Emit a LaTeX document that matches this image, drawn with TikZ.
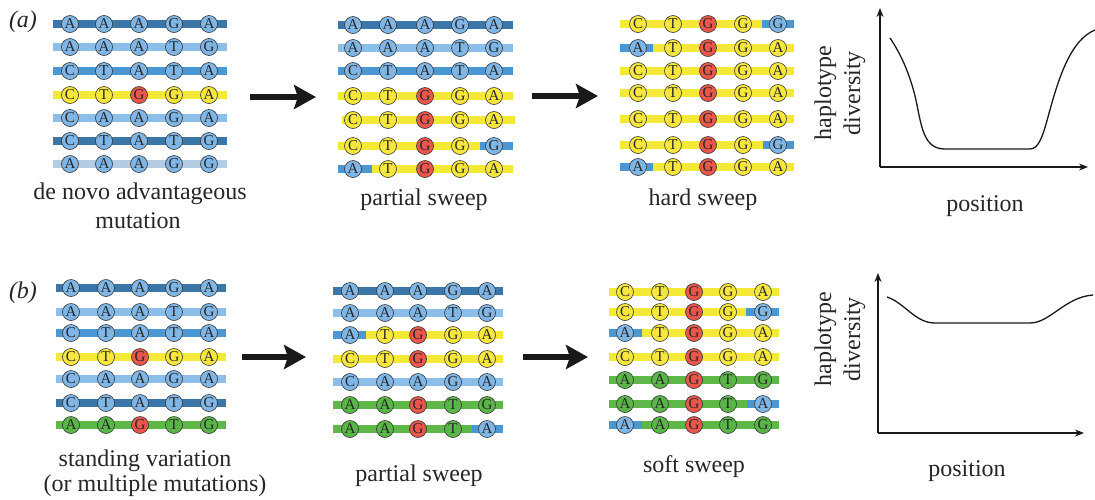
\documentclass[tikz,border=0pt]{standalone}
\usepackage{fontspec}
\setmainfont{Liberation Serif}
\usetikzlibrary{arrows.meta}
\definecolor{bD}{HTML}{3A76A8}
\definecolor{bL}{HTML}{8BBEE8}
\definecolor{bM}{HTML}{4B97D3}
\definecolor{bP}{HTML}{B3CDE5}
\definecolor{yB}{HTML}{F4E936}
\definecolor{gB}{HTML}{5DB848}
\definecolor{cB}{HTML}{80B6E6}
\definecolor{cY}{HTML}{F6E63E}
\definecolor{cR}{HTML}{E8564C}
\definecolor{cG}{HTML}{5AB548}
\tikzset{
  nt/.style={circle, draw=black!80, line width=0.6pt, minimum size=17pt, inner sep=0pt,
    font=\fontsize{15}{15}\selectfont, text=black!85},
  lab/.style={font=\fontsize{24}{27}\selectfont, inner sep=0pt, text=black!85},
  bigarrow/.style={line width=5.5pt, black!90, -{Stealth[length=22pt,width=24pt,inset=4pt]}},
  axis/.style={line width=1.3pt, black!90, -{Stealth[length=9pt,width=7pt]}},
  curve/.style={line width=1.3pt, black!90}
}
\newcommand\hrow[4]{%
  \foreach \hs/\hu/\hv in {#3}{\fill[\hs] (\hu,#2-3.6) rectangle (\hv,#2+3.6);}
  \foreach \hcol/\hlet [count=\hi from 0] in {#4}{%
    \pgfmathsetmacro\hxx{\xs[\hi]}%
    \node[nt,fill=\hcol] (#1-\hi) at (\hxx,#2) {\hlet};}%
}
\begin{document}
\begin{tikzpicture}[x=1pt,y=-1pt]
\useasboundingbox (0,0) rectangle (1095,499);

% ---------- (a) ----------
\node[lab,font=\fontsize{24}{27}\selectfont\itshape] (la) at (23,22) {(a)};

% panel a1
\def\xs{{70,104,139,174,209}}\def\bl{53}\def\br{227}
\hrow{a1r1}{24}{bD/\bl/\br}{cB/A,cB/A,cB/A,cB/G,cB/A}
\hrow{a1r2}{47}{bL/\bl/\br}{cB/A,cB/A,cB/A,cB/T,cB/G}
\hrow{a1r3}{71}{bM/\bl/\br}{cB/C,cB/T,cB/A,cB/T,cB/A}
\hrow{a1r4}{95}{yB/\bl/\br}{cY/C,cY/T,cR/G,cY/G,cY/A}
\hrow{a1r5}{118}{bL/\bl/\br}{cB/C,cB/A,cB/A,cB/G,cB/A}
\hrow{a1r6}{141}{bD/\bl/\br}{cB/C,cB/T,cB/A,cB/T,cB/G}
\hrow{a1r7}{164}{bP/\bl/\br}{cB/A,cB/A,cB/A,cB/G,cB/G}
\node[lab] (t1) at (140,194) {de novo advantageous};
\node[lab] (t2) at (138,221) {mutation};

% panel a2
\def\xs{{353,388,425,460,494}}\def\bl{338}\def\br{513}
\hrow{a2r1}{25}{bD/\bl/\br}{cB/A,cB/A,cB/A,cB/G,cB/A}
\hrow{a2r2}{48}{bL/\bl/\br}{cB/A,cB/A,cB/A,cB/T,cB/G}
\hrow{a2r3}{71}{bM/\bl/\br}{cB/C,cB/T,cB/A,cB/T,cB/A}
\hrow{a2r4}{96}{yB/\bl/\br}{cY/C,cY/T,cR/G,cY/G,cY/A}
\hrow{a2r5}{120}{yB/342/515}{cY/C,cY/T,cR/G,cY/G,cY/A}
\hrow{a2r6}{146}{yB/\bl/480,bM/480/\br}{cY/C,cY/T,cR/G,cY/G,cB/G}
\hrow{a2r7}{169}{bM/\bl/372,yB/372/\br}{cB/A,cY/T,cR/G,cY/G,cY/A}
\node[lab] (t3) at (424,200) {partial sweep};

% panel a3
\def\xs{{638,673,708,743,778}}\def\bl{620}\def\br{794}
\hrow{a3r1}{24}{yB/\bl/762,bM/762/\br}{cY/C,cY/T,cR/G,cY/G,cB/G}
\hrow{a3r2}{48}{bM/\bl/653,yB/653/\br}{cB/A,cY/T,cR/G,cY/G,cY/A}
\hrow{a3r3}{71}{yB/\bl/\br}{cY/C,cY/T,cR/G,cY/G,cY/A}
\hrow{a3r4}{93}{yB/\bl/\br}{cY/C,cY/T,cR/G,cY/G,cY/A}
\hrow{a3r5}{119}{yB/\bl/\br}{cY/C,cY/T,cR/G,cY/G,cY/A}
\hrow{a3r6}{145}{yB/\bl/763,bM/763/\br}{cY/C,cY/T,cR/G,cY/G,cB/G}
\hrow{a3r7}{167}{bM/\bl/653,yB/653/\br}{cB/A,cY/T,cR/G,cY/G,cY/A}
\node[lab] (t4) at (703,200) {hard sweep};

% arrows (a)
\coordinate (aa1) at (250,97); \coordinate (aa2) at (316,97);
\coordinate (aa3) at (532,96); \coordinate (aa4) at (598,96);
\draw[bigarrow] (aa1) -- (aa2);
\draw[bigarrow] (aa3) -- (aa4);

% graph (a)
\coordinate (ga) at (880,167);
\coordinate (gay) at (880,8);
\coordinate (gax) at (1088,167);
\draw[axis] (ga) -- (gay);
\draw[axis] (ga) -- (gax);
\draw[curve] (890,38) .. controls (905,60) and (913,85) .. (917,105)
  .. controls (922,130) and (925,149) .. (945,149) -- (1030,149)
  .. controls (1039,149) and (1043,135) .. (1048,117)
  .. controls (1058,80) and (1070,40) .. (1095,30);
\node[lab,rotate=90,align=center,font=\fontsize{24}{29}\selectfont] (ya) at (840,93) {haplotype\\diversity};
\node[lab] (xa) at (985,206) {position};

% ---------- (b) ----------
\node[lab,font=\fontsize{24}{27}\selectfont\itshape] (lb) at (23,293) {(b)};

% panel b1
\def\xs{{71,106,140,174,209}}\def\bl{56}\def\br{226}
\hrow{b1r1}{288}{bD/\bl/\br}{cB/A,cB/A,cB/A,cB/G,cB/A}
\hrow{b1r2}{312}{bL/\bl/\br}{cB/A,cB/A,cB/A,cB/T,cB/G}
\hrow{b1r3}{333}{bM/\bl/\br}{cB/C,cB/T,cB/A,cB/T,cB/A}
\hrow{b1r4}{357}{yB/\bl/\br}{cY/C,cY/T,cR/G,cY/G,cY/A}
\hrow{b1r5}{379}{bL/\bl/\br}{cB/C,cB/A,cB/A,cB/G,cB/A}
\hrow{b1r6}{403}{bD/\bl/\br}{cB/C,cB/T,cB/A,cB/T,cB/G}
\hrow{b1r7}{425}{gB/\bl/\br}{cG/A,cG/A,cR/G,cG/T,cG/G}
\node[lab] (t5) at (145,461) {standing variation};
\node[lab] (t6) at (155,486) {(or multiple mutations)};

% panel b2
\def\xs{{350,385,418,453,487}}\def\bl{333}\def\br{503}
\hrow{b2r1}{291}{bD/\bl/\br}{cB/A,cB/A,cB/A,cB/G,cB/A}
\hrow{b2r2}{313}{bL/\bl/\br}{cB/A,cB/A,cB/A,cB/T,cB/G}
\hrow{b2r3}{335}{bM/\bl/366,yB/366/\br}{cB/A,cY/T,cR/G,cY/G,cY/A}
\hrow{b2r4}{359}{yB/\bl/\br}{cY/C,cY/T,cR/G,cY/G,cY/A}
\hrow{b2r5}{382}{bL/\bl/\br}{cB/C,cB/A,cB/A,cB/G,cB/A}
\hrow{b2r6}{405}{gB/\bl/\br}{cG/A,cG/A,cR/G,cG/T,cG/G}
\hrow{b2r7}{429}{gB/\bl/472,bM/472/\br}{cG/A,cG/A,cR/G,cG/T,cB/A}
\node[lab] (t7) at (419,476) {partial sweep};

% panel b3
\def\xs{{625,660,694,728,763}}\def\bl{609}\def\br{779}
\hrow{b3r1}{292}{yB/\bl/\br}{cY/C,cY/T,cR/G,cY/G,cY/A}
\hrow{b3r2}{312}{yB/\bl/746,bM/746/\br}{cY/C,cY/T,cR/G,cY/G,cB/G}
\hrow{b3r3}{333}{bM/\bl/642,yB/642/\br}{cB/A,cY/T,cR/G,cY/G,cY/A}
\hrow{b3r4}{357}{yB/\bl/\br}{cY/C,cY/T,cR/G,cY/G,cY/A}
\hrow{b3r5}{380}{gB/\bl/\br}{cG/A,cG/A,cR/G,cG/T,cG/G}
\hrow{b3r6}{404}{gB/\bl/747,bM/747/\br}{cG/A,cG/A,cR/G,cG/T,cB/A}
\hrow{b3r7}{425}{bM/\bl/642,gB/642/\br}{cB/A,cG/A,cR/G,cG/T,cG/G}
\node[lab] (t8) at (694,467) {soft sweep};

% arrows (b)
\coordinate (ba1) at (242,357); \coordinate (ba2) at (306,357);
\coordinate (ba3) at (523,357); \coordinate (ba4) at (588,357);
\draw[bigarrow] (ba1) -- (ba2);
\draw[bigarrow] (ba3) -- (ba4);

% graph (b)
\coordinate (gb) at (878,433);
\coordinate (gby) at (878,273);
\coordinate (gbx) at (1084,433);
\draw[axis] (gb) -- (gby);
\draw[axis] (gb) -- (gbx);
\draw[curve] (887,297) .. controls (905,303) and (915,323) .. (935,323) -- (1030,323)
  .. controls (1050,323) and (1065,297) .. (1093,295);
\node[lab,rotate=90,align=center,font=\fontsize{24}{29}\selectfont] (yb) at (840,339) {haplotype\\diversity};
\node[lab] (xb) at (967,471) {position};
\end{tikzpicture}
\end{document}
